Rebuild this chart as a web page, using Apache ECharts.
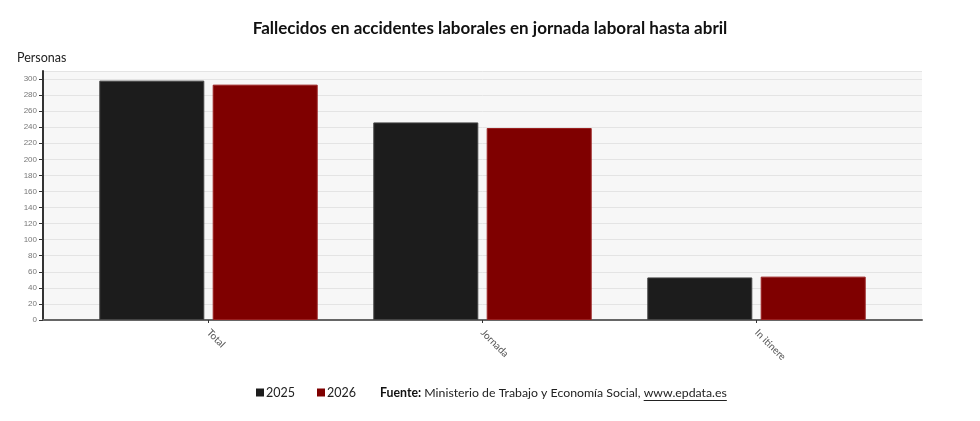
<!DOCTYPE html>
<html lang="es">
<head>
    <meta charset="UTF-8">
    <title>Fallecidos en accidentes laborales</title>
    <script type="text/javascript" src="https://cdn.jsdelivr.net/npm/echarts@6/dist/echarts.min.js"></script>
    <style>
        html, body { margin: 0; padding: 0; background: #fff; }
        #ec { width: 980px; height: 421px; }
    </style>
</head>
<body>
<div id="ec"></div>
<script>
    var categories = ['Total', 'Jornada', 'In itinere'];
    var values2025 = [298, 246, 53];
    var values2026 = [293, 239, 54];
    var seriesNames = ['2025', '2026'];

    var font = "Lato, 'DejaVu Sans', sans-serif";
    var srcBold = 'Fuente:';
    var srcText = ' Ministerio de Trabajo y Economía Social, ';
    var srcLink = 'www.epdata.es';
    var srcLeft = 380, srcTop = 387, srcSize = 12.3;

    // width of the text before the link, to put the underline under it
    var ctx = document.createElement('canvas').getContext('2d');
    ctx.font = 'bold ' + srcSize + 'px ' + font;
    var wBold = ctx.measureText(srcBold).width;
    ctx.font = srcSize + 'px ' + font;
    var wText = ctx.measureText(srcText).width;
    var wLink = ctx.measureText(srcLink).width;
    var linkX = srcLeft + wBold + wText;

    var myChart = echarts.init(document.getElementById('ec'));
    myChart.setOption({
        animation: false,
        textStyle: { fontFamily: font },
        title: {
            text: 'Fallecidos en accidentes laborales en jornada laboral hasta abril',
            left: 'center',
            top: 15,
            textStyle: { fontSize: 17, fontWeight: 'bold', color: '#111', fontFamily: font }
        },
        legend: {
            left: 251,
            top: 381,
            icon: 'rect',
            itemWidth: 8,
            itemHeight: 8,
            itemGap: 22,
            itemStyle: { borderWidth: 0 },
            textStyle: { fontSize: 12.5, color: '#222', fontFamily: font, padding: [0, 0, 0, -3] },
            data: seriesNames
        },
        graphic: [
            {
                type: 'text',
                left: 17,
                top: 51,
                style: { text: 'Personas', fontSize: 12.5, fill: '#222', fontFamily: font }
            },
            {
                type: 'text',
                left: srcLeft,
                top: srcTop,
                style: {
                    text: '{b|' + srcBold + '}' + srcText + srcLink,
                    fontSize: srcSize,
                    fill: '#222',
                    fontFamily: font,
                    rich: {
                        b: { fontWeight: 'bold', fontSize: srcSize, fill: '#111', fontFamily: font }
                    }
                }
            },
            {
                // underline under the link
                type: 'line',
                shape: { x1: linkX, y1: srcTop + 13.5, x2: linkX + wLink, y2: srcTop + 13.5 },
                style: { stroke: '#222', lineWidth: 1 }
            }
        ],
        grid: [
            // background + y axis
            { left: 43, right: 58, top: 71, bottom: 101, show: true, backgroundColor: '#f7f7f7', borderWidth: 0 },
            // bars, with some padding on the sides
            { left: 71.5, right: 86.5, top: 71, bottom: 101 }
        ],
        xAxis: [
            {
                gridIndex: 0, type: 'category', data: categories,
                axisLine: { lineStyle: { color: '#666', width: 2 } },
                axisTick: { show: false },
                axisLabel: { show: false }
            },
            {
                gridIndex: 1, type: 'category', data: categories,
                axisLine: { show: false },
                axisTick: { show: true, alignWithLabel: true, length: 3, lineStyle: { color: '#333' } },
                axisLabel: { rotate: -45, fontSize: 10, color: '#555', margin: 11, fontFamily: font }
            }
        ],
        yAxis: [
            {
                gridIndex: 0, type: 'value', min: 0, max: 310, interval: 20,
                axisLine: { show: true, lineStyle: { color: '#333', width: 2 } },
                axisTick: { show: true, length: 4, lineStyle: { color: '#333' } },
                axisLabel: { fontSize: 8, color: '#777', margin: 6, showMaxLabel: false, fontFamily: "'Liberation Sans', sans-serif" },
                splitLine: { lineStyle: { color: '#e4e4e4' } }
            },
            { gridIndex: 1, type: 'value', min: 0, max: 310, show: false }
        ],
        series: [
            {
                name: seriesNames[0], type: 'bar', xAxisIndex: 1, yAxisIndex: 1,
                barWidth: 105, barGap: '8%',
                itemStyle: { color: '#1c1c1c', borderColor: '#444', borderWidth: 1 },
                data: values2025
            },
            {
                name: seriesNames[1], type: 'bar', xAxisIndex: 1, yAxisIndex: 1,
                barWidth: 105, barGap: '8%',
                itemStyle: { color: '#7f0000', borderColor: '#9a2020', borderWidth: 1 },
                data: values2026
            }
        ]
    });
</script>
</body>
</html>
